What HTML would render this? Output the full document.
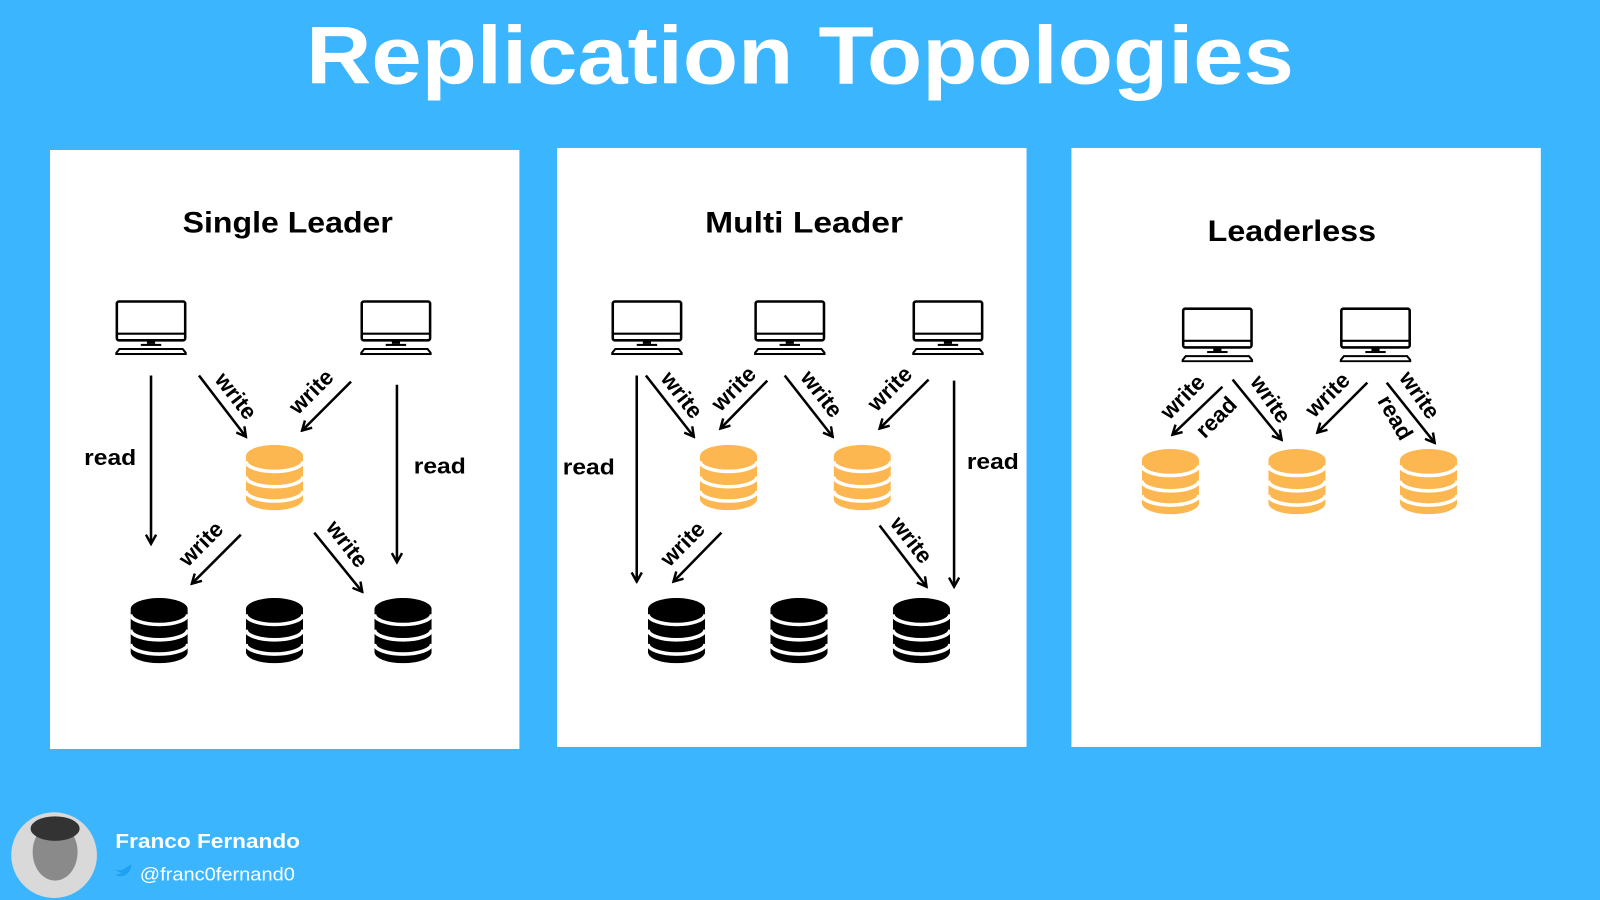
<!DOCTYPE html>
<html><head><meta charset="utf-8"><style>html,body{margin:0;padding:0;background:#3bb5fe;width:1600px;height:900px;overflow:hidden}</style></head>
<body>
<svg width="1600" height="900" viewBox="0 0 1568 882" xmlns="http://www.w3.org/2000/svg" font-family="Liberation Sans, sans-serif">
<defs>
<marker id="ah" viewBox="0 0 12 12" refX="10" refY="6" markerWidth="12" markerHeight="12" markerUnits="userSpaceOnUse" orient="auto">
<path d="M1,1 L10,6 L1,11" fill="none" stroke="#000" stroke-width="2.4"/>
</marker>
<symbol id="mon" viewBox="0 0 70 54" width="70" height="54">
<rect x="1.5" y="1.5" width="67" height="38" rx="2" fill="#fff" stroke="#000" stroke-width="2.5"/>
<line x1="1.5" y1="33" x2="68.5" y2="33" stroke="#000" stroke-width="2"/>
<rect x="31" y="40" width="8" height="3" fill="#000"/>
<rect x="25" y="43" width="20" height="2" fill="#000"/>
<path d="M4,48 L66,48 L70,53 L0,53 Z" fill="#fff" stroke="#000" stroke-width="2"/>
</symbol>
<symbol id="db" viewBox="0 0 56 64" width="56" height="64">
<path d="M0,11 A28,11 0 0 1 56,11 V53 A28,11 0 0 1 0,53 Z" fill="currentColor"/>
<g fill="none" stroke="#fff" stroke-width="3.5">
<path d="M0,16 A28,10 0 0 0 56,16"/>
<path d="M0,31 A28,10 0 0 0 56,31"/>
<path d="M0,45 A28,10 0 0 0 56,45"/>
</g>
</symbol>
</defs>
<rect width="1568" height="882" fill="#3bb5fe"/>
<text x="784" y="82" text-anchor="middle" font-size="80" font-weight="bold" fill="#fff" textLength="968" lengthAdjust="spacingAndGlyphs">Replication Topologies</text>

<rect x="49" y="147" width="460" height="587" fill="#fff"/>
<rect x="546" y="145" width="460" height="587" fill="#fff"/>
<rect x="1050" y="145" width="460" height="587" fill="#fff"/>

<g font-weight="bold" font-size="29" fill="#000" text-anchor="middle">
<text x="282" y="228" textLength="206" lengthAdjust="spacingAndGlyphs">Single Leader</text>
<text x="788" y="228" textLength="194" lengthAdjust="spacingAndGlyphs">Multi Leader</text>
<text x="1266" y="236" textLength="165" lengthAdjust="spacingAndGlyphs">Leaderless</text>
</g>

<!-- Panel 1 -->
<use href="#mon" x="113" y="294"/><use href="#mon" x="353" y="294"/>
<use href="#db" x="241" y="436" color="#fdb751"/>
<use href="#db" x="128" y="586" color="#000"/><use href="#db" x="241" y="586" color="#000"/><use href="#db" x="367" y="586" color="#000"/>
<g stroke="#000" stroke-width="2.5" marker-end="url(#ah)">
<line x1="148" y1="368" x2="148" y2="533"/>
<line x1="389" y1="377" x2="389" y2="551"/>
<line x1="195" y1="368" x2="241" y2="428"/>
<line x1="344" y1="374" x2="296" y2="422"/>
<line x1="236" y1="524" x2="188" y2="572"/>
<line x1="308" y1="522" x2="355" y2="580"/>
</g>
<!-- Panel 2 -->
<use href="#mon" x="599" y="294"/><use href="#mon" x="739" y="294"/><use href="#mon" x="894" y="294"/>
<use href="#db" x="686" y="436" color="#fdb751"/><use href="#db" x="817" y="436" color="#fdb751"/>
<use href="#db" x="635" y="586" color="#000"/><use href="#db" x="755" y="586" color="#000"/><use href="#db" x="875" y="586" color="#000"/>
<g stroke="#000" stroke-width="2.5" marker-end="url(#ah)">
<line x1="624" y1="368" x2="624" y2="570"/>
<line x1="935" y1="373" x2="935" y2="575"/>
<line x1="633" y1="368" x2="680" y2="428"/>
<line x1="752" y1="373" x2="706" y2="420"/>
<line x1="769" y1="368" x2="816" y2="428"/>
<line x1="910" y1="372" x2="862" y2="420"/>
<line x1="707" y1="522" x2="660" y2="570"/>
<line x1="862" y1="515" x2="908" y2="575"/>
</g>
<!-- Panel 3 -->
<use href="#mon" x="1158" y="301"/><use href="#mon" x="1313" y="301"/>
<use href="#db" x="1119" y="440" color="#fdb751"/><use href="#db" x="1243" y="440" color="#fdb751"/><use href="#db" x="1372" y="440" color="#fdb751"/>
<g stroke="#000" stroke-width="2.5" marker-end="url(#ah)">
<line x1="1198" y1="379" x2="1149" y2="426"/>
<line x1="1208" y1="372" x2="1256" y2="431"/>
<line x1="1340" y1="375" x2="1291" y2="424"/>
<line x1="1359" y1="375" x2="1406" y2="434"/>
</g>

<g font-weight="bold" font-size="22" fill="#000" text-anchor="middle" dominant-baseline="middle">
<text x="108" y="450" textLength="51" lengthAdjust="spacingAndGlyphs">read</text>
<text x="431" y="458" textLength="51" lengthAdjust="spacingAndGlyphs">read</text>
<text x="577" y="459" textLength="51" lengthAdjust="spacingAndGlyphs">read</text>
<text x="973" y="454" textLength="51" lengthAdjust="spacingAndGlyphs">read</text>
<text transform="translate(230,389) rotate(52)">write</text>
<text transform="translate(306,385) rotate(-45)">write</text>
<text transform="translate(198,534) rotate(-45)">write</text>
<text transform="translate(339,534) rotate(52)">write</text>
<text transform="translate(667,388) rotate(52)">write</text>
<text transform="translate(720,382) rotate(-45)">write</text>
<text transform="translate(804,387) rotate(52)">write</text>
<text transform="translate(873,382) rotate(-45)">write</text>
<text transform="translate(670,534) rotate(-45)">write</text>
<text transform="translate(892,530) rotate(52)">write</text>
<text transform="translate(1160,390) rotate(-45)">write</text>
<text transform="translate(1193,410) rotate(-45)">read</text>
<text transform="translate(1244,392) rotate(55)">write</text>
<text transform="translate(1302,388) rotate(-45)">write</text>
<text transform="translate(1366,410) rotate(60)">read</text>
<text transform="translate(1390,388) rotate(55)">write</text>
</g>

<!-- footer -->
<circle cx="53" cy="838" r="42" fill="#d9d9d9"/>
<ellipse cx="54" cy="835" rx="22" ry="28" fill="#8a8a8a"/>
<ellipse cx="54" cy="812" rx="24" ry="12" fill="#333"/>
<text x="113" y="831" font-size="20" font-weight="bold" fill="#fff" textLength="181" lengthAdjust="spacingAndGlyphs">Franco Fernando</text>
<path d="M113,852 q6,2 9,-1 q4,-2 7,-4 q-1,8 -7,11 q-5,2 -9,-1 q5,0 6,-2 q-4,0 -6,-3z" fill="#1da1f2"/>
<text x="137" y="863" font-size="18" fill="#fff" textLength="152" lengthAdjust="spacingAndGlyphs">@franc0fernand0</text>
</svg>
</body></html>
